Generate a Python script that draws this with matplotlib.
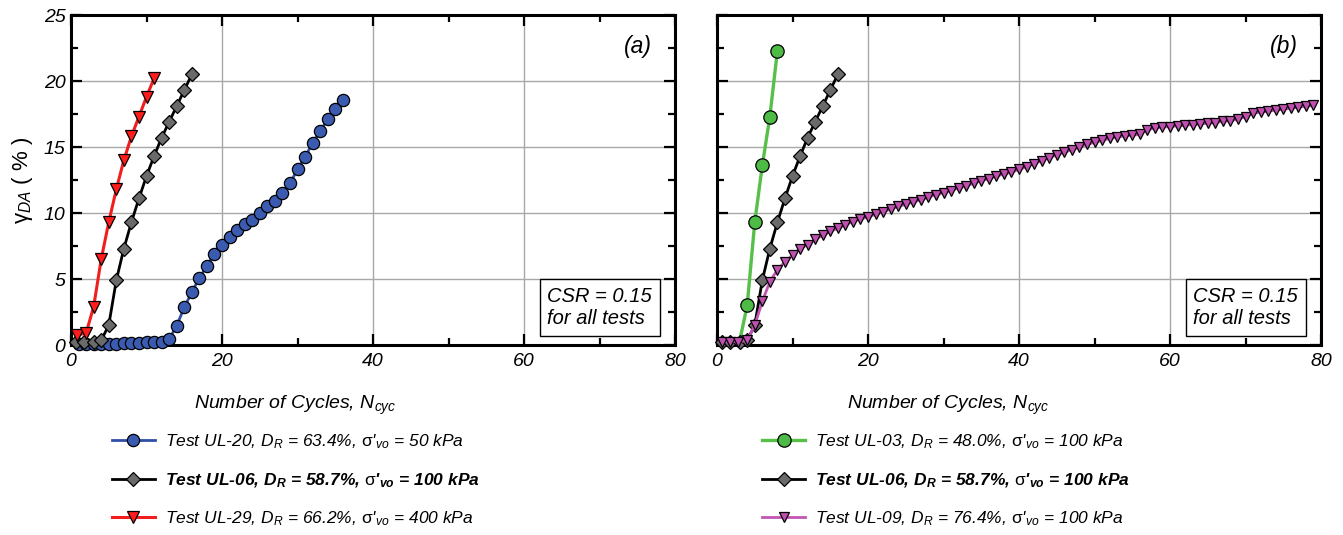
import matplotlib
matplotlib.use("Agg")
import matplotlib.pyplot as plt
from matplotlib.lines import Line2D
from matplotlib.ticker import MultipleLocator
from matplotlib.font_manager import FontProperties

plt.rcParams['font.family'] = ['Liberation Sans', 'DejaVu Sans']
plt.rcParams['mathtext.fontset'] = 'custom'
plt.rcParams['mathtext.rm'] = 'Liberation Sans'
plt.rcParams['mathtext.it'] = 'Liberation Sans:italic'
plt.rcParams['mathtext.bf'] = 'Liberation Sans:italic:bold'
plt.rcParams['mathtext.default'] = 'it'

# ---------------- data ----------------
ul20_x = [1, 2, 3, 4, 5, 6, 7, 8, 9, 10, 11, 12, 13, 14, 15, 16, 17, 18, 19, 20,
          21, 22, 23, 24, 25, 26, 27, 28, 29, 30, 31, 32, 33, 34, 35, 36]
ul20_y = [0.1, 0.1, 0.1, 0.1, 0.1, 0.1, 0.15, 0.15, 0.15, 0.2, 0.2, 0.25, 0.45,
          1.46, 2.85, 4.0, 5.07, 6.0, 6.9, 7.6, 8.15, 8.7, 9.2, 9.5, 10.0, 10.5,
          10.9, 11.5, 12.25, 13.3, 14.25, 15.3, 16.2, 17.1, 17.85, 18.55]

ul06_x = [0.6, 1.7, 3, 4, 5, 6, 7, 8, 9, 10, 11, 12, 13, 14, 15, 16]
ul06_y = [0.2, 0.2, 0.25, 0.35, 1.5, 4.9, 7.3, 9.3, 11.1, 12.8, 14.3, 15.7,
          16.9, 18.1, 19.3, 20.5]

ul29_x = [0.75, 2, 3, 4, 5, 6, 7, 8, 9, 10, 11]
ul29_y = [0.75, 0.9, 2.9, 6.5, 9.3, 11.8, 14.0, 15.8, 17.3, 18.8, 20.2]

ul03_x = [3, 4, 5, 6, 7, 8]
ul03_y = [0.3, 3.0, 9.3, 13.6, 17.3, 22.3]

ul09_x = [0.6, 1.7, 2.8, 4, 5, 6, 7, 8, 9, 10, 11, 12, 13, 14, 15, 16, 17, 18, 19,
          20, 21, 22, 23, 24, 25, 26, 27, 28, 29, 30, 31, 32, 33, 34, 35, 36, 37,
          38, 39, 40, 41, 42, 43, 44, 45, 46, 47, 48, 49, 50, 51, 52, 53, 54, 55,
          56, 57, 58, 59, 60, 61, 62, 63, 64, 65, 66, 67, 68, 69, 70, 71, 72, 73,
          74, 75, 76, 77, 78, 79]
ul09_y = [0.25, 0.25, 0.25, 0.35, 1.5, 3.3, 4.8, 5.7, 6.3, 6.8, 7.3, 7.6, 8.0,
          8.3, 8.6, 8.85, 9.1, 9.35, 9.55, 9.7, 9.9, 10.1, 10.3, 10.5, 10.65,
          10.85, 11.0, 11.2, 11.4, 11.55, 11.7, 11.9, 12.05, 12.25, 12.45, 12.6,
          12.8, 12.95, 13.1, 13.3, 13.5, 13.75, 13.95, 14.2, 14.4, 14.6, 14.8,
          15.0, 15.2, 15.35, 15.5, 15.65, 15.75, 15.85, 15.9, 15.95, 16.3, 16.45,
          16.5, 16.55, 16.6, 16.65, 16.7, 16.75, 16.8, 16.85, 16.95, 17.0, 17.1,
          17.3, 17.55, 17.65, 17.7, 17.8, 17.85, 17.95, 18.0, 18.1, 18.15]

xticks = [0, 20, 40, 60, 80]
xtick_labels = ['0', '20', '40', '60', '80']
yticks = [0, 5, 10, 15, 20, 25]
ytick_labels = ['0', '5', '10', '15', '20', '25']

lab20 = r"Test UL-20, $D_R$ = 63.4%, $\mathrm{\sigma}$'$_{vo}$ = 50 kPa"
lab06 = r"Test UL-06, $\mathbf{D_R}$ = 58.7%, $\mathrm{\sigma}$'$_{\mathbf{vo}}$ = 100 kPa"
lab29 = r"Test UL-29, $D_R$ = 66.2%, $\mathrm{\sigma}$'$_{vo}$ = 400 kPa"
lab03 = r"Test UL-03, $D_R$ = 48.0%, $\mathrm{\sigma}$'$_{vo}$ = 100 kPa"
lab09 = r"Test UL-09, $D_R$ = 76.4%, $\mathrm{\sigma}$'$_{vo}$ = 100 kPa"

# ---------------- styles ----------------
st20 = dict(color='#2f4fa6', lw=2.0, marker='o', ms=8.8, mfc='#3a5bb0', mec='black', mew=0.9)
st06 = dict(color='black', lw=2.0, marker='D', ms=7.0, mfc='#6a6a6a', mec='black', mew=0.9)
st29 = dict(color='#f21d1d', lw=2.2, marker='v', ms=8.5, mfc='#ff1c1c', mec='black', mew=0.9)
st03 = dict(color='#56c04b', lw=2.4, marker='o', ms=9.6, mfc='#4dbb45', mec='black', mew=0.9)
st09 = dict(color='#c255b4', lw=2.0, marker='v', ms=7.6, mfc='#c050b0', mec='black', mew=0.9)

W, H = 1343, 535
fig = plt.figure(figsize=(W / 100, H / 100), dpi=100)
axa = fig.add_axes([71 / W, 190 / H, 604 / W, 330 / H])
axb = fig.add_axes([717 / W, 190 / H, 604 / W, 330 / H])

axa.plot(ul20_x, ul20_y, clip_on=False, zorder=3, **st20)
axa.plot(ul06_x, ul06_y, clip_on=False, zorder=4, **st06)
axa.plot(ul29_x, ul29_y, clip_on=False, zorder=5, **st29)

axb.plot(ul03_x, ul03_y, clip_on=False, zorder=3, markevery=slice(1, None), **st03)
axb.plot(ul06_x, ul06_y, clip_on=False, zorder=4, **st06)
axb.plot(ul09_x, ul09_y, clip_on=False, zorder=5, **st09)

for ax, tag, xlab_x in ((axa, '(a)', 0.371), (axb, '(b)', 0.382)):
    ax.set_xlim(0, 80)
    ax.set_ylim(0, 25)
    ax.set_xticks(xticks)
    ax.set_xticklabels(xtick_labels, fontstyle='italic', fontsize=14)
    ax.set_yticks(yticks)
    ax.set_yticklabels(ytick_labels, fontstyle='italic', fontsize=14)
    ax.xaxis.set_minor_locator(MultipleLocator(10))
    ax.yaxis.set_minor_locator(MultipleLocator(2.5))
    ax.tick_params(which='both', direction='in', top=True, right=True, width=1.6)
    ax.tick_params(which='major', length=8, pad=6)
    ax.tick_params(which='minor', length=5)
    ax.tick_params(axis='y', which='major', pad=4)
    ax.grid(True, which='major', color='#a8a8a8', lw=1.0)
    ax.set_axisbelow(True)
    for s in ax.spines.values():
        s.set_linewidth(2.2)
    ax.set_xlabel(r"Number of Cycles, N$_{cyc}$", fontsize=14, fontstyle='italic')
    ax.xaxis.set_label_coords(xlab_x, -0.148)
    ax.text(0.962, 0.905, tag, transform=ax.transAxes, ha='right', va='center',
            fontsize=16.5, fontstyle='italic')
    ax.text(0.962, 0.05, "CSR = 0.15\nfor all tests", transform=ax.transAxes,
            ha='right', va='bottom', multialignment='left', fontsize=14.5,
            fontstyle='italic', linespacing=1.25, zorder=6,
            bbox=dict(boxstyle='square,pad=0.38', fc='white', ec='black', lw=1.0))

axb.tick_params(labelleft=False)
axa.set_ylabel(r"$\mathrm{\gamma}_{DA}$ ( % )", fontsize=16, labelpad=6)

prop = FontProperties(family='Liberation Sans', style='italic', size=12.5)

def make_legend(ax, specs, x0):
    handles = [Line2D([], [], **st) for st, _ in specs]
    labels = [lab for _, lab in specs]
    leg = ax.legend(handles, labels, loc='upper left', bbox_to_anchor=(x0, -0.265),
                    frameon=False, prop=prop, handlelength=2.45, handletextpad=0.6,
                    labelspacing=1.15, borderaxespad=0.0, borderpad=0.0)
    leg.get_texts()[1].set_fontweight('bold')
    return leg

make_legend(axa, [(st20, lab20), (st06, lab06), (st29, lab29)], 0.068)
make_legend(axb, [(st03, lab03), (st06, lab06), (st09, lab09)], 0.075)

fig.savefig('out.png', dpi=100)
